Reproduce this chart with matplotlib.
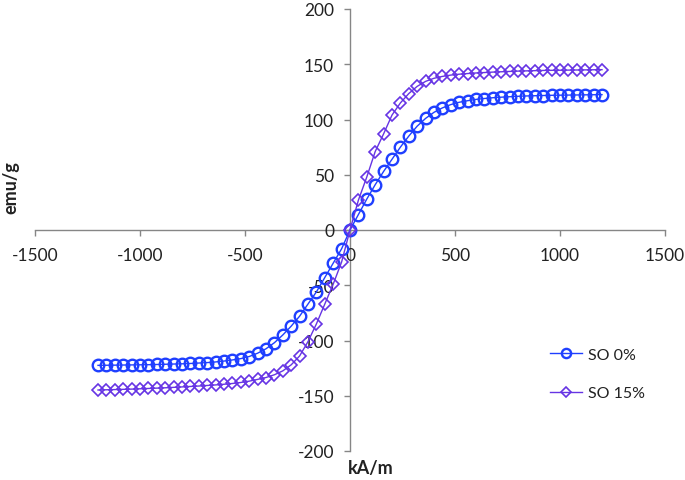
import matplotlib
matplotlib.use("Agg")
import matplotlib.pyplot as plt

# field values (kA/m)
field = [-1200, -1160, -1120, -1080, -1040, -1000, -960, -920, -880, -840,
         -800, -760, -720, -680, -640, -600, -560, -520, -480, -440,
         -400, -360, -320, -280, -240, -200, -160, -120, -80, -40,
         0, 40, 80, 120, 160, 200, 240, 280, 320, 360,
         400, 440, 480, 520, 560, 600, 640, 680, 720, 760,
         800, 840, 880, 920, 960, 1000, 1040, 1080, 1120, 1160, 1200]

so0 = [-122.5, -122.4, -122.3, -122.2, -122.1, -122.0, -121.9, -121.7, -121.5, -121.3,
       -121.1, -120.8, -120.4, -120.0, -119.4, -118.6, -117.6, -116.4, -114.5, -111.5,
       -107.5, -102.0, -95.0, -87.0, -78.0, -67.0, -56.0, -43.0, -30.0, -17.0,
       0.0, 14.0, 28.0, 41.0, 53.0, 64.0, 75.0, 85.0, 94.0, 101.0,
       106.5, 110.5, 113.5, 115.6, 117.0, 118.2, 119.0, 119.7, 120.2, 120.6,
       121.0, 121.3, 121.5, 121.7, 121.9, 122.0, 122.1, 122.2, 122.3, 122.4, 122.5]

so15 = [-144.8, -144.6, -144.4, -144.2, -144.0, -143.7, -143.4, -143.1, -142.8, -142.4,
        -142.0, -141.6, -141.2, -140.7, -140.2, -139.6, -138.9, -138.0, -136.8, -135.2,
        -133.5, -131.0, -127.5, -122.0, -114.0, -101.0, -85.0, -67.0, -49.0, -29.0,
        0.0, 27.0, 48.0, 71.0, 87.0, 104.0, 115.0, 123.5, 130.0, 134.5,
        137.3, 139.0, 140.2, 141.0, 141.6, 142.1, 142.5, 142.9, 143.2, 143.5,
        143.8, 144.0, 144.2, 144.4, 144.5, 144.6, 144.7, 144.8, 144.9, 145.0, 145.1]

series_labels = ["SO 0%", "SO 15%"]
x_ticks = [-1500, -1000, -500, 0, 500, 1000, 1500]
y_ticks = [-200, -150, -100, -50, 0, 50, 100, 150, 200]

plt.rcParams['font.family'] = ['Lato', 'DejaVu Sans']

W, H = 685, 481
fig = plt.figure(figsize=(W / 100, H / 100), dpi=100)
ax = fig.add_axes([35 / W, 1 - 452 / H, (665 - 35) / W, (452 - 10) / H])

c0 = '#1f3fff'
c15 = '#6634e4'
ax.plot(field, so0, color=c0, lw=1.0, marker='o', ms=8.3, mew=1.7,
        mfc='none', mec=c0, label=series_labels[0], zorder=3)
ax.plot(field, so15, color=c15, lw=1.0, marker='D', ms=6.4, mew=1.2,
        mfc='none', mec=c15, label=series_labels[1], zorder=4)

ax.set_xlim(-1500, 1500)
ax.set_ylim(-200, 200)
ax.set_xticks(x_ticks)
ax.set_yticks(y_ticks)
ax.set_xticklabels([str(v) for v in x_ticks])
ax.set_yticklabels([str(v) for v in y_ticks])

grey = '#868686'
for s in ['top', 'right']:
    ax.spines[s].set_visible(False)
ax.spines['left'].set_position(('data', 0))
ax.spines['bottom'].set_position(('data', 0))
for s in ['left', 'bottom']:
    ax.spines[s].set_color(grey)
    ax.spines[s].set_linewidth(1.0)
    ax.spines[s].set_zorder(1)

ax.tick_params(axis='x', direction='out', length=4.5, width=1, color=grey,
               labelsize=12.5, labelcolor='#222222', pad=8)
ax.tick_params(axis='y', direction='out', length=4.5, width=1, color=grey,
               labelsize=12.5, labelcolor='#222222', pad=7)

fig.text(11 / W, 1 - 188 / H, 'emu/g', rotation=90, ha='center', va='center',
         fontsize=13, fontweight='bold', color='#222222')
fig.text(371 / W, 1 - 469 / H, 'kA/m', ha='center', va='center',
         fontsize=13, fontweight='bold', color='#222222')

leg = fig.legend(loc='center left', bbox_to_anchor=(550 / W, 1 - 375 / H),
                 frameon=False, fontsize=11.5, handlelength=2.0,
                 handletextpad=0.35, labelspacing=1.5, borderpad=0,
                 borderaxespad=0)
for h in leg.legend_handles:
    h.set_markersize(h.get_markersize() * 0.8)
for t in leg.get_texts():
    t.set_color('#222222')

fig.savefig('out.png', dpi=100)
